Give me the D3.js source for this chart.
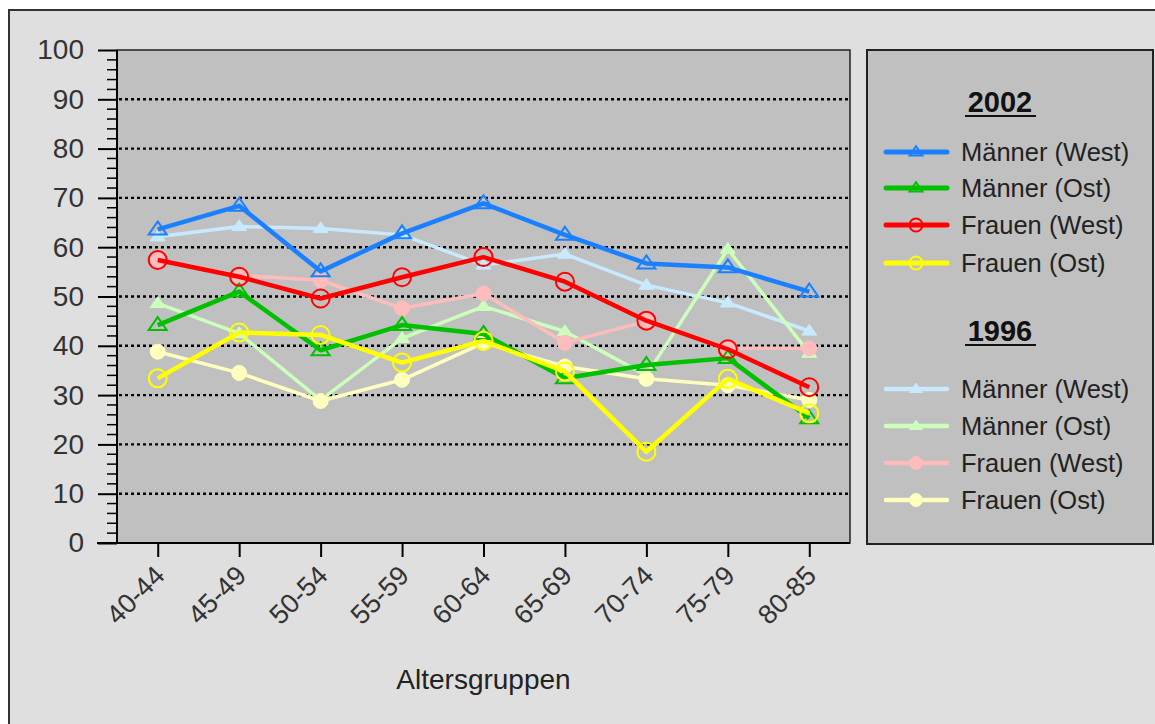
<!DOCTYPE html>
<html>
<head>
<meta charset="utf-8">
<script src="https://cdn.jsdelivr.net/npm/d3@7"></script>
<style>
html,body{margin:0;padding:0;background:#fff;}
svg{display:block;font-family:"Liberation Sans",Arial,sans-serif;}
</style>
</head>
<body>
<svg id="chart" width="1155" height="724"></svg>
<script>
const categories = ["40-44","45-49","50-54","55-59","60-64","65-69","70-74","75-79","80-85"];
const yTicks = [0,10,20,30,40,50,60,70,80,90,100];

const maennerWest2002 = [63.6, 68.4, 55.1, 62.8, 68.9, 62.5, 56.7, 55.9, 51.0];
const maennerOst2002  = [44.2, 51.0, 39.1, 44.2, 42.4, 33.4, 36.1, 37.5, 25.3];
const frauenWest2002  = [57.4, 54.0, 49.6, 53.9, 58.0, 53.0, 45.1, 39.3, 31.6];
const frauenOst2002   = [33.4, 42.7, 42.2, 36.6, 41.0, 34.8, 18.5, 33.3, 26.3];

const maennerWest1996 = [62.1, 64.2, 63.8, 62.5, 56.4, 58.6, 52.3, 48.7, 43.0];
const maennerOst1996  = [48.6, 42.5, 29.0, 41.5, 48.0, 42.9, 34.0, 59.6, 38.5];
const frauenWest1996  = [57.4, 54.3, 53.3, 47.6, 50.6, 40.6, 45.0, 39.5, 39.5];
const frauenOst1996   = [38.8, 34.5, 28.8, 33.1, 40.6, 35.8, 33.3, 32.0, 29.0];

const seriesNames = ["Männer (West)","Männer (Ost)","Frauen (West)","Frauen (Ost)"];
const years = ["2002","1996"];
const xTitle = "Altersgruppen";

const series2002 = [
  {name: seriesNames[0], values: maennerWest2002, color: "#1a80ff", shape: "tri", open: true},
  {name: seriesNames[1], values: maennerOst2002,  color: "#00c000", shape: "tri", open: true},
  {name: seriesNames[2], values: frauenWest2002,  color: "#ff0000", shape: "circ", open: true},
  {name: seriesNames[3], values: frauenOst2002,   color: "#ffff00", shape: "circ", open: true}
];
const series1996 = [
  {name: seriesNames[0], values: maennerWest1996, color: "#c8eaff", shape: "tri", open: false},
  {name: seriesNames[1], values: maennerOst1996,  color: "#ccffbb", shape: "tri", open: false},
  {name: seriesNames[2], values: frauenWest1996,  color: "#ffbcbc", shape: "circ", open: false},
  {name: seriesNames[3], values: frauenOst1996,   color: "#ffffbe", shape: "circ", open: false}
];

const svg = d3.select("#chart");

// outer frame
svg.append("rect").attr("x",9).attr("y",10).attr("width",1160).attr("height",730)
  .attr("fill","#dfdfdf").attr("stroke","#333").attr("stroke-width",2);

const plot = {l:117, r:850, t:50, b:543};

const x = d3.scalePoint().domain(categories).range([plot.l, plot.r]).padding(0.5);
const y = d3.scaleLinear().domain([0,100]).range([plot.b, plot.t]);

// plot background
svg.append("rect").attr("x",plot.l).attr("y",plot.t).attr("width",plot.r-plot.l).attr("height",plot.b-plot.t)
  .attr("fill","#c0c0c0").attr("stroke","#222").attr("stroke-width",1.5);

// gridlines
svg.append("g").selectAll("line").data(yTicks.filter(d=>d>0 && d<100)).join("line")
  .attr("x1",plot.l+2).attr("x2",plot.r-1).attr("y1",d=>y(d)).attr("y2",d=>y(d))
  .attr("stroke","#000").attr("stroke-width",2.4).attr("stroke-dasharray","3,3");

// y axis
const yAxis = d3.axisLeft(y).tickValues(yTicks).tickSize(19).tickPadding(14);
const gy = svg.append("g").attr("transform",`translate(${plot.l},0)`).call(yAxis);
gy.select(".domain").remove();
gy.selectAll(".tick line").attr("stroke","#000").attr("stroke-width",2);
gy.selectAll(".tick text").attr("font-size",28).attr("fill","#333")
  .attr("font-family","Liberation Sans, Arial, sans-serif");
// minor ticks
const minor = d3.range(0,101,2).filter(d=>d%10!==0);
svg.append("g").selectAll("line").data(minor).join("line")
  .attr("x1",plot.l-10).attr("x2",plot.l).attr("y1",d=>y(d)).attr("y2",d=>y(d))
  .attr("stroke","#000").attr("stroke-width",1.5);
svg.append("line").attr("x1",plot.l).attr("x2",plot.l).attr("y1",plot.t).attr("y2",plot.b)
  .attr("stroke","#000").attr("stroke-width",2);

// x axis
const xAxis = d3.axisBottom(x).tickSize(14).tickPadding(6);
const gx = svg.append("g").attr("transform",`translate(0,${plot.b})`).call(xAxis);
gx.select(".domain").remove();
gx.selectAll(".tick line").attr("stroke","#000").attr("stroke-width",2);
gx.selectAll(".tick text").attr("font-size",27).attr("fill","#333")
  .attr("font-family","Liberation Sans, Arial, sans-serif")
  .attr("text-anchor","end").attr("dy",0)
  .attr("transform","translate(-6,20) rotate(-45)");
svg.append("line").attr("x1",97).attr("x2",plot.r).attr("y1",plot.b).attr("y2",plot.b)
  .attr("stroke","#000").attr("stroke-width",2);

svg.append("text").attr("x",(plot.l+plot.r)/2).attr("y",689).attr("text-anchor","middle")
  .attr("font-size",28).attr("fill","#222").text(xTitle);

// lines
const line = d3.line().x((d,i)=>x(categories[i])).y(d=>y(d));

function marker(g, shape, cx, cy, size, color, open){
  if(shape==="tri"){
    const w=size, h=size*0.72;
    g.append("path").attr("d",`M${cx},${cy-h*0.62}L${cx+w/2},${cy+h*0.38}L${cx-w/2},${cy+h*0.38}Z`)
      .attr("fill",open?"none":color).attr("stroke",color).attr("stroke-width",open?2:1);
  } else {
    g.append("circle").attr("cx",cx).attr("cy",cy).attr("r",size/2)
      .attr("fill",open?"none":color).attr("stroke",color).attr("stroke-width",open?2:1);
  }
}

function drawSeries(list, lw, msize){
  list.forEach(s=>{
    const g = svg.append("g");
    g.append("path").datum(s.values).attr("d",line).attr("fill","none")
      .attr("stroke",s.color).attr("stroke-width",lw).attr("stroke-linejoin","round");
    s.values.forEach((v,i)=>marker(g, s.shape, x(categories[i]), y(v), msize, s.color, s.open));
  });
}
drawSeries(series1996, 3.5, 15);
drawSeries(series2002, 4.5, 18);

// legend
const lg = svg.append("g");
lg.append("rect").attr("x",867).attr("y",50).attr("width",286).attr("height",494)
  .attr("fill","#c0c0c0").attr("stroke","#222").attr("stroke-width",2);

function legendBlock(title, list, titleY, rowYs, lw){
  lg.append("text").attr("x",1000).attr("y",titleY).attr("text-anchor","middle")
    .attr("font-size",29).attr("font-weight","bold").attr("fill","#111").text(title);
  lg.append("line").attr("x1",965).attr("x2",1036).attr("y1",titleY+4).attr("y2",titleY+4)
    .attr("stroke","#111").attr("stroke-width",2);
  list.forEach((s,i)=>{
    const yy = rowYs[i];
    lg.append("line").attr("x1",886).attr("x2",947).attr("y1",yy).attr("y2",yy)
      .attr("stroke",s.color).attr("stroke-width",lw).attr("stroke-linecap","round");
    const gm = lg.append("g");
    marker(gm, s.shape, 916, yy, 13, s.color, s.open);
    lg.append("text").attr("x",961).attr("y",yy+9).attr("font-size",25.5).attr("fill","#222").text(s.name);
  });
}
legendBlock(years[0], series2002, 112, [152,188,225,263], 5);
legendBlock(years[1], series1996, 341, [389,426,463,500], 4.5);
</script>
</body>
</html>
